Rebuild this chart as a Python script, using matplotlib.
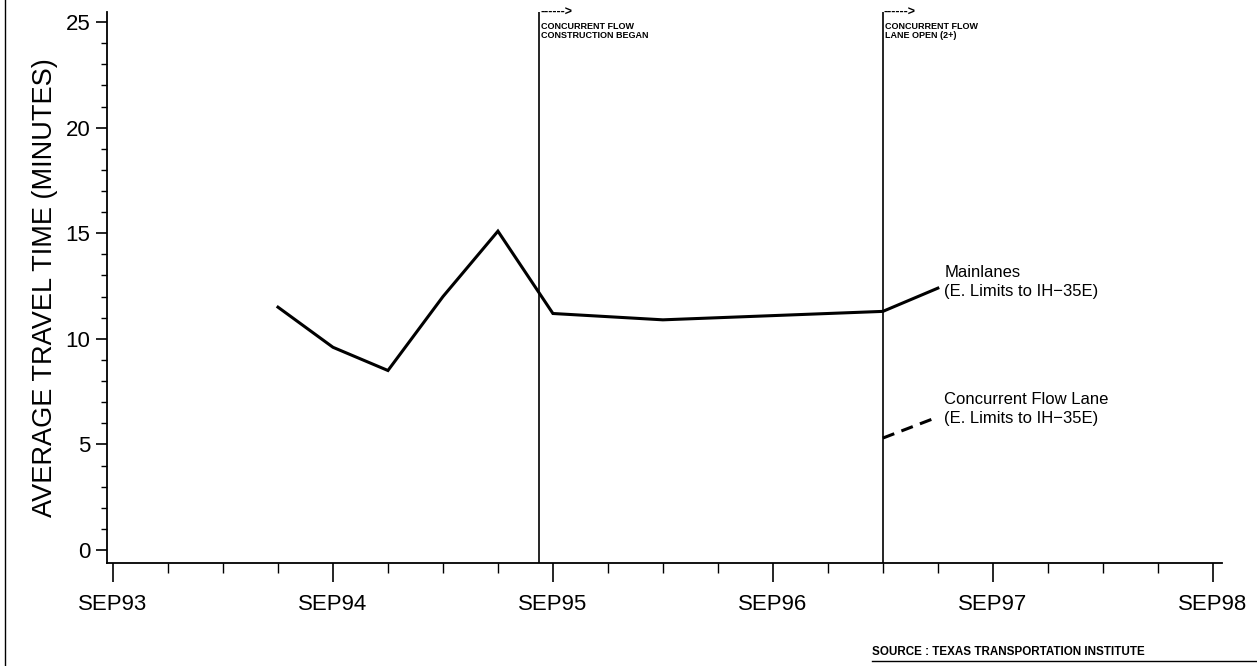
import matplotlib.pyplot as plt
from matplotlib.lines import Line2D
import numpy as np

# months counted from SEP93
main_months = [9, 12, 15, 18, 21, 24, 30, 36, 42, 45]
main_vals = [11.5, 9.6, 8.5, 12.0, 15.1, 11.2, 10.9, 11.1, 11.3, 12.4]
cfl_months = [42, 45]
cfl_vals = [5.3, 6.3]

tick_months = [0, 12, 24, 36, 48, 60]
tick_labels = ["SEP93", "SEP94", "SEP95", "SEP96", "SEP97", "SEP98"]
y_ticks = [0, 5, 10, 15, 20, 25]

event_months = [23.25, 42]
event_labels = ["CONCURRENT FLOW\nCONSTRUCTION BEGAN", "CONCURRENT FLOW\nLANE OPEN (2+)"]

plt.rcParams['font.family'] = ['Liberation Sans', 'DejaVu Sans']

fig = plt.figure(figsize=(12.57, 6.66), dpi=100)
ax = fig.add_axes([0.0851, 0.1547, 0.887, 0.827])

ax.plot(main_months, main_vals, color='black', lw=2.2, solid_joinstyle='miter')
ax.plot(cfl_months, cfl_vals, color='black', lw=2.2, linestyle=(0, (4, 2.5)))

for m, lab in zip(event_months, event_labels):
    ax.axvline(m, color='black', lw=1.2)
    ax.text(m + 0.05, 25.45, "------>", fontsize=9, fontweight='bold', va='center', ha='left')
    ax.text(m + 0.1, 25.0, lab, fontsize=6.5, fontweight='bold', va='top', ha='left',
            linespacing=1.0)

ax.text(45.35, 12.69, "Mainlanes\n(E. Limits to IH\u221235E)", fontsize=12, va='center',
        ha='left', linespacing=1.4)
ax.text(45.35, 6.68, "Concurrent Flow Lane\n(E. Limits to IH\u221235E)", fontsize=12,
        va='center', ha='left', linespacing=1.4)

ax.set_xlim(-0.33, 60.5)
ax.set_ylim(-0.615, 25.47)
for s in ['top', 'right']:
    ax.spines[s].set_visible(False)
ax.spines['left'].set_linewidth(1.3)
ax.spines['bottom'].set_linewidth(1.3)

ax.set_xticks(tick_months)
ax.set_xticklabels(tick_labels, fontsize=16)
ax.set_xticks(np.arange(0, 61, 3), minor=True)
ax.set_yticks(y_ticks)
ax.set_yticklabels([str(v) for v in y_ticks], fontsize=16)
ax.set_yticks(np.arange(0, 26, 1), minor=True)
ax.tick_params(axis='x', which='major', length=14, width=1.2, pad=8)
ax.tick_params(axis='x', which='minor', length=7, width=1.0)
ax.tick_params(axis='y', which='major', length=8, width=1.2, pad=4)
ax.tick_params(axis='y', which='minor', length=4, width=1.0)

ax.set_ylabel("AVERAGE TRAVEL TIME (MINUTES)", fontsize=19.5, labelpad=5)

fig.text(0.694, 0.012, "SOURCE : TEXAS TRANSPORTATION INSTITUTE", fontsize=8.4,
         fontweight='bold', ha='left', va='bottom')
fig.add_artist(Line2D([0.694, 1.0], [0.008, 0.008], color='black', lw=1.0))
fig.add_artist(Line2D([0.004, 0.004], [0.0, 1.0], color='black', lw=1.0))

fig.savefig("out.png", dpi=100)
